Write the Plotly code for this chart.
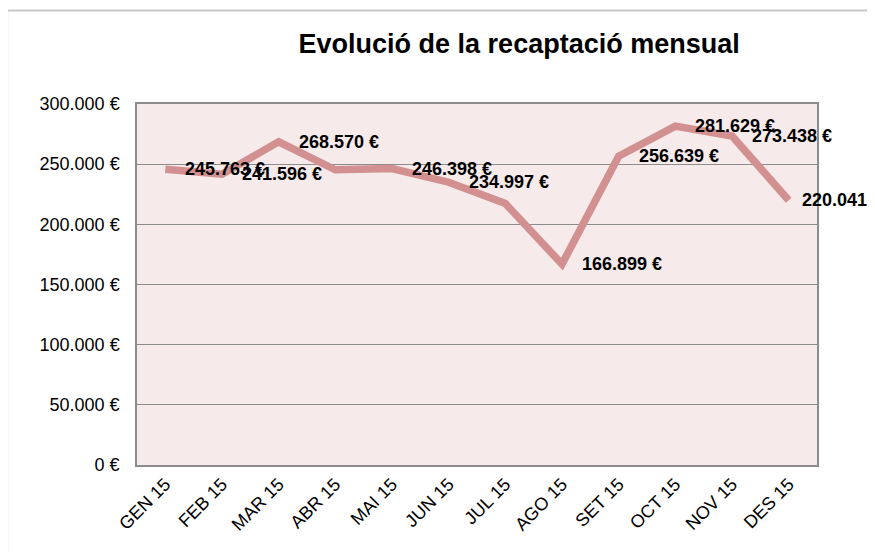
import plotly.graph_objects as go

months = ["GEN 15", "FEB 15", "MAR 15", "ABR 15", "MAI 15", "JUN 15",
          "JUL 15", "AGO 15", "SET 15", "OCT 15", "NOV 15", "DES 15"]
values = [245763, 241596, 268570, 245300, 246398, 234997,
          217300, 166899, 256639, 281629, 273438, 220041]
show_label = [True, True, True, False, True, True,
              False, True, True, True, True, True]
y_ticks = [0, 50000, 100000, 150000, 200000, 250000, 300000]


def eur(v):
    s = f"{v:,.0f}".replace(",", ".")
    return f"{s} €"


fig = go.Figure()
fig.add_trace(go.Scatter(
    x=months, y=values, mode="lines",
    line=dict(color="#D39090", width=7.5),
    hoverinfo="skip", showlegend=False, cliponaxis=False,
))

annotations = []
n = len(months)
for i, (m, v, s) in enumerate(zip(months, values, show_label)):
    if s:
        annotations.append(dict(
            x=m, y=v, xref="x", yref="y", text="<b>" + eur(v) + "</b>", showarrow=False,
            xanchor="left", yanchor="middle", xshift=11 if i == n - 1 else 18,
            font=dict(family="Liberation Sans, Arial", size=18, color="#000000"),
        ))

# page body adds an 8px offset; compensate in size/margins
fig.update_layout(
    width=867, height=544,
    margin=dict(l=129, r=58, t=96, b=87),
    paper_bgcolor="#FFFFFF",
    plot_bgcolor="#F6EAEA",
    font=dict(family="Liberation Sans, Arial", size=18, color="#000000"),
    title=dict(
        text="<b>Evolució de la recaptació mensual</b>",
        x=0.562, xref="paper", xanchor="center",
        y=1 - 36 / 544, yref="container", yanchor="middle",
        font=dict(family="Liberation Sans, Arial", size=27, color="#000000"),
    ),
    annotations=annotations,
    shapes=[dict(type="rect", xref="paper", yref="paper",
                 x0=-0.191, x1=1.1, y0=-0.3, y1=1.2587,
                 line=dict(color="#C8C8C8", width=2), layer="below")],
)

fig.update_xaxes(
    type="category", range=[-0.5, 11.5], tickangle=-45, showgrid=False,
    showline=True, linecolor="#8C8C8C", linewidth=1.5, mirror=True,
    ticks="", tickfont=dict(size=18),
)
fig.update_yaxes(
    range=[0, 300000], tickvals=y_ticks, ticktext=[eur(t) for t in y_ticks],
    showgrid=True, gridcolor="#8C8C8C", gridwidth=1.2,
    showline=True, linecolor="#8C8C8C", linewidth=1.5, mirror=True,
    ticks="", ticklabelstandoff=12, tickfont=dict(size=18), zeroline=False,
)

fig.write_html("out.html")
